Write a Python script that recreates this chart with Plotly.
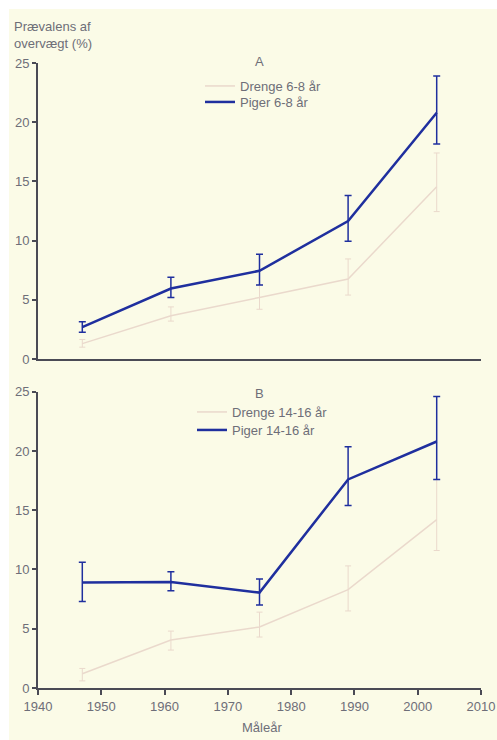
import plotly.graph_objects as go
from plotly.subplots import make_subplots

years = [1947, 1961, 1975, 1989, 2003]

# Panel A: 6-8 år
drenge_6_8 = [1.3, 3.65, 5.2, 6.75, 14.55]
drenge_6_8_hi = [1.65, 4.4, 6.25, 8.45, 17.4]
drenge_6_8_lo = [1.0, 3.2, 4.2, 5.4, 12.45]
piger_6_8 = [2.7, 5.95, 7.45, 11.65, 20.8]
piger_6_8_hi = [3.15, 6.9, 8.85, 13.8, 23.9]
piger_6_8_lo = [2.25, 5.2, 6.25, 9.95, 18.15]

# Panel B: 14-16 år
drenge_14_16 = [1.2, 4.05, 5.15, 8.3, 14.2]
drenge_14_16_hi = [1.65, 4.8, 6.4, 10.3, 17.6]
drenge_14_16_lo = [0.6, 3.2, 4.3, 6.5, 11.6]
piger_14_16 = [8.9, 8.95, 8.05, 17.6, 20.8]
piger_14_16_hi = [10.6, 9.8, 9.2, 20.35, 24.6]
piger_14_16_lo = [7.3, 8.2, 7.0, 15.4, 17.6]

x_ticks = [1940, 1950, 1960, 1970, 1980, 1990, 2000, 2010]
y_ticks = [0, 5, 10, 15, 20, 25]

BLUE = "#1f2f9e"
LIGHT = "#ead9cc"
TEXT = "#6e6e78"
AXIS = "#4a4a55"
CREAM = "#fbfbe7"
FONT = "Liberation Sans, Arial, sans-serif"

W, H = 497, 740
L, R, T, B = 38, 481, 63, 688
ph = B - T
pw = R - L


def px_x(p):
    return (p - L) / pw


def px_y(p):
    return (B - p) / ph


def err(vals, hi, lo):
    return dict(type="data", symmetric=False,
                array=[h - v for h, v in zip(hi, vals)],
                arrayminus=[v - l for v, l in zip(vals, lo)])


fig = make_subplots(rows=2, cols=1, shared_xaxes=False, vertical_spacing=0.05)

fig.add_trace(go.Scatter(x=years, y=drenge_6_8, mode="lines", name="Drenge 6-8 år",
                         line=dict(color=LIGHT, width=1.5),
                         error_y=dict(**err(drenge_6_8, drenge_6_8_hi, drenge_6_8_lo),
                                      color=LIGHT, thickness=1, width=3),
                         legend="legend"), row=1, col=1)
fig.add_trace(go.Scatter(x=years, y=piger_6_8, mode="lines", name="Piger 6-8 år",
                         line=dict(color=BLUE, width=2.5),
                         error_y=dict(**err(piger_6_8, piger_6_8_hi, piger_6_8_lo),
                                      color=BLUE, thickness=1.5, width=3.5),
                         legend="legend2"), row=1, col=1)
fig.add_trace(go.Scatter(x=years, y=drenge_14_16, mode="lines", name="Drenge 14-16 år",
                         line=dict(color=LIGHT, width=1.5),
                         error_y=dict(**err(drenge_14_16, drenge_14_16_hi, drenge_14_16_lo),
                                      color=LIGHT, thickness=1, width=3),
                         legend="legend3"), row=2, col=1)
fig.add_trace(go.Scatter(x=years, y=piger_14_16, mode="lines", name="Piger 14-16 år",
                         line=dict(color=BLUE, width=2.5),
                         error_y=dict(**err(piger_14_16, piger_14_16_hi, piger_14_16_lo),
                                      color=BLUE, thickness=1.5, width=3.5),
                         legend="legend4"), row=2, col=1)

top_dom = [px_y(359), 1.0]
bot_dom = [0.0, px_y(391.7)]

axis_common = dict(showgrid=False, zeroline=False, showline=True, linecolor=AXIS,
                   linewidth=2, ticks="outside", tickcolor=AXIS, ticklen=4, tickwidth=1.5,
                   automargin=False,
                   tickfont=dict(family=FONT, size=13, color=TEXT))

fig.update_xaxes(range=[1940, 2010], tickvals=x_ticks, **axis_common)
fig.update_xaxes(showticklabels=False, ticks="", row=1, col=1)
fig.update_xaxes(ticklen=5, row=2, col=1)
fig.update_yaxes(range=[0, 25], tickvals=y_ticks, **axis_common)
fig.update_layout(
    xaxis=dict(domain=[0, 1]), xaxis2=dict(domain=[0, 1]),
    yaxis=dict(domain=top_dom), yaxis2=dict(domain=bot_dom),
)


def leg(xp, yp):
    return dict(x=px_x(xp), y=px_y(yp), xanchor="left", yanchor="middle",
                bgcolor="rgba(0,0,0,0)", font=dict(size=13, color=TEXT, family=FONT),
                itemwidth=30, borderwidth=0, visible=True)


fig.update_layout(
    width=W, height=H,
    margin=dict(l=L, r=W - R, t=T, b=H - B, pad=0, autoexpand=False),
    paper_bgcolor="white", plot_bgcolor="rgba(0,0,0,0)",
    showlegend=True,
    font=dict(family=FONT, size=13, color=TEXT),
    legend=leg(200, 86),
    legend2=leg(200, 102),
    legend3=leg(192, 412),
    legend4=leg(192, 430),
    shapes=[dict(type="rect", xref="paper", yref="paper", layer="below",
                 x0=px_x(9), x1=px_x(W + 2), y0=px_y(H + 2), y1=px_y(9),
                 fillcolor=CREAM, line=dict(width=0))],
    annotations=[
        dict(text="A", x=px_x(259), y=px_y(62), xref="paper", yref="paper",
             xanchor="center", yanchor="middle",
             showarrow=False, font=dict(size=13, color=TEXT)),
        dict(text="B", x=px_x(259), y=px_y(393), xref="paper", yref="paper",
             xanchor="center", yanchor="middle",
             showarrow=False, font=dict(size=13, color=TEXT)),
        dict(text="Prævalens af<br>overvægt (%)", x=px_x(12), y=px_y(35),
             xref="paper", yref="paper", xanchor="left", yanchor="middle", align="left",
             showarrow=False, font=dict(size=13, color=TEXT)),
        dict(text="Måleår", x=px_x(262), y=px_y(727), xref="paper", yref="paper",
             xanchor="center", yanchor="middle",
             showarrow=False, font=dict(size=13, color=TEXT)),
    ],
)

fig.write_html(
    "out.html",
    config=dict(displayModeBar=False),
    post_script="document.documentElement.style.overflow='hidden';"
                "document.body.style.margin='0';document.body.style.overflow='hidden';",
)
